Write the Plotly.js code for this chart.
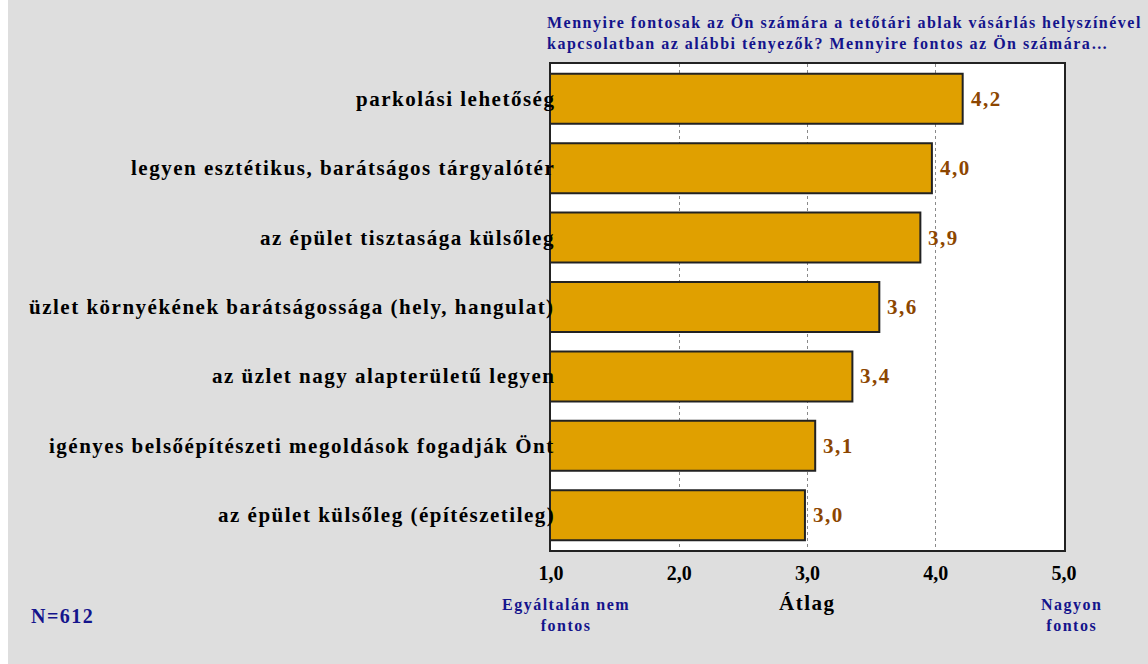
<!DOCTYPE html>
<html>
<head>
<meta charset="utf-8">
<script src="https://cdn.plot.ly/plotly-3.0.1.min.js"></script>
<style>
  html, body { margin: 0; padding: 0; background: #ffffff; }
  #chart { position: absolute; left: 8px; top: 0; width: 1140px; height: 664px; }
  .annotation-text { letter-spacing: 1.5px; }
</style>
</head>
<body>
<div id="chart"></div>
<script>
const categories = [
  "parkolási lehetőség",
  "legyen esztétikus, barátságos tárgyalótér",
  "az épület tisztasága külsőleg",
  "üzlet környékének barátságossága (hely, hangulat)",
  "az üzlet nagy alapterületű legyen",
  "igényes belsőépítészeti megoldások fogadják Önt",
  "az épület külsőleg (építészetileg)"
];
const values = [4.21, 3.97, 3.88, 3.56, 3.35, 3.06, 2.98];
const valueLabels = ["4,2", "4,0", "3,9", "3,6", "3,4", "3,1", "3,0"];
const tickValues = [1, 2, 3, 4, 5];
const tickLabels = ["1,0", "2,0", "3,0", "4,0", "5,0"];
const titleText = "Mennyire fontosak az Ön számára a tetőtári ablak vásárlás helyszínével<br>kapcsolatban az alábbi tényezők? Mennyire fontos az Ön számára…";
const axisTitle = "Átlag";
const lowLabel = "Egyáltalán nem<br>fontos";
const highLabel = "Nagyon<br>fontos";
const sampleLabel = "N=612";

const SERIF = "Liberation Serif, Times New Roman, serif";
const NAVY = "#14148c";
const BROWN = "#8c4600";

const trace = {
  type: "bar",
  orientation: "h",
  y: categories,
  x: values,
  width: 0.72,
  marker: { color: "#e0a000", line: { color: "#222222", width: 2 } },
  hoverinfo: "skip"
};

const annotations = [];
categories.forEach((c, i) => {
  annotations.push({
    xref: "paper", yref: "y", x: 0, y: c, xanchor: "right", yanchor: "middle",
    xshift: 6, text: c, showarrow: false,
    font: { family: SERIF, size: 21, color: "#000000", weight: "bold" }
  });
  annotations.push({
    xref: "x", yref: "y", x: values[i], y: c, xanchor: "left", yanchor: "middle",
    xshift: 6, text: valueLabels[i], showarrow: false,
    font: { family: SERIF, size: 21, color: BROWN, weight: "bold" }
  });
});
annotations.push({
  xref: "paper", yref: "paper", x: 0, y: 1, xanchor: "left", yanchor: "bottom",
  xshift: -6, yshift: 9, align: "left", text: titleText, showarrow: false,
  font: { family: SERIF, size: 16, color: NAVY, weight: "bold" }
});
annotations.push({
  xref: "x", yref: "paper", x: 3, y: 0, xanchor: "center", yanchor: "middle",
  yshift: -53, text: axisTitle, showarrow: false,
  font: { family: SERIF, size: 21, color: "#000000", weight: "bold" }
});
annotations.push({
  xref: "paper", yref: "paper", x: 0, y: 0, xanchor: "center", yanchor: "middle",
  xshift: 15, yshift: -65, text: lowLabel, showarrow: false,
  font: { family: SERIF, size: 16, color: NAVY, weight: "bold" }
});
annotations.push({
  xref: "paper", yref: "paper", x: 1, y: 0, xanchor: "center", yanchor: "middle",
  xshift: 7, yshift: -65, text: highLabel, showarrow: false,
  font: { family: SERIF, size: 16, color: NAVY, weight: "bold" }
});
annotations.push({
  xref: "paper", yref: "paper", x: 0, y: 0, xanchor: "center", yanchor: "middle",
  xshift: -489, yshift: -66, text: sampleLabel, showarrow: false,
  font: { family: SERIF, size: 20, color: NAVY, weight: "bold" }
});

const layout = {
  width: 1140,
  height: 664,
  margin: { l: 543, r: 84, t: 64, b: 114, pad: 0 },
  paper_bgcolor: "#dedede",
  plot_bgcolor: "#ffffff",
  showlegend: false,
  xaxis: {
    range: [1, 5],
    autorange: false,
    tickvals: tickValues,
    ticktext: tickLabels,
    ticks: "outside",
    ticklen: 4,
    tickcolor: "rgba(0,0,0,0)",
    tickfont: { family: SERIF, size: 20, color: "#000000", weight: "bold" },
    showgrid: true,
    gridcolor: "#8a8a8a",
    gridwidth: 1,
    griddash: "dot",
    zeroline: false,
    showline: true,
    mirror: true,
    linecolor: "#222222",
    linewidth: 2,
    fixedrange: true
  },
  yaxis: {
    type: "category",
    range: [6.5, -0.5],
    autorange: false,
    showticklabels: false,
    ticks: "",
    showgrid: false,
    zeroline: false,
    showline: true,
    mirror: true,
    linecolor: "#222222",
    linewidth: 2,
    fixedrange: true
  },
  annotations: annotations
};

Plotly.newPlot("chart", [trace], layout, { displayModeBar: false, staticPlot: true });
</script>
</body>
</html>
